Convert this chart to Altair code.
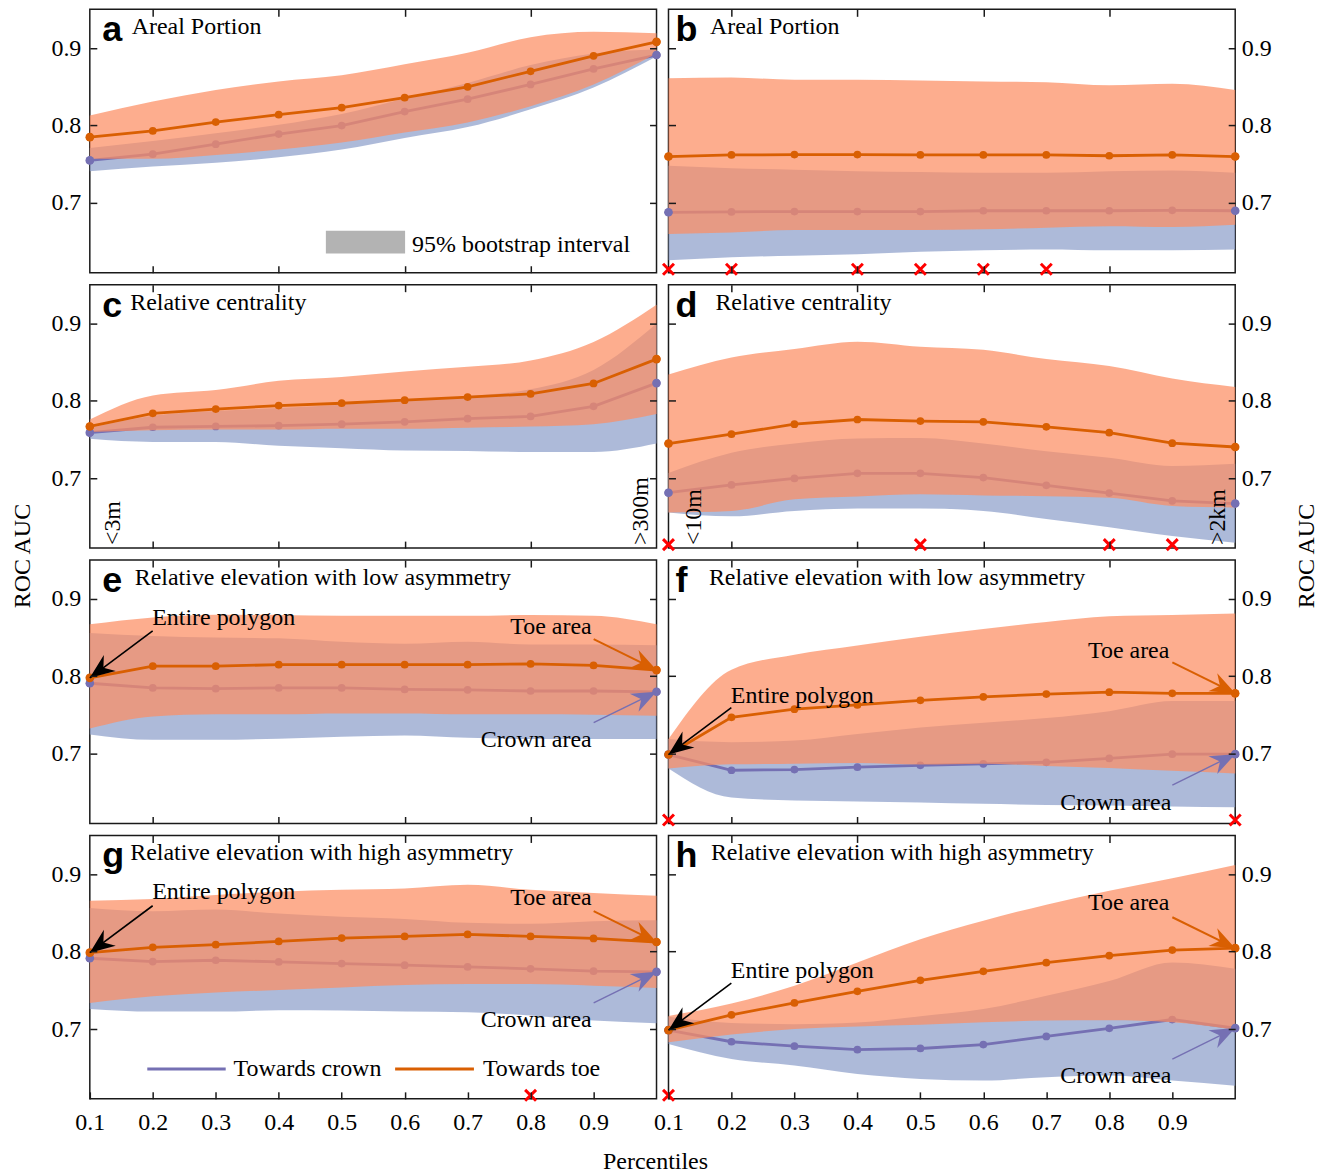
import altair as alt
import pandas as pd

# ---------------- data ----------------
X = [0.1, 0.2, 0.3, 0.4, 0.5, 0.6, 0.7, 0.8, 0.9, 1.0]
X_LABELS = [0.1, 0.2, 0.3, 0.4, 0.5, 0.6, 0.7, 0.8, 0.9]
X_MINOR = [0.2, 0.4, 0.6, 0.8]
Y_TICKS = [0.7, 0.8, 0.9]

LETTERS = ["a", "b", "c", "d", "e", "f", "g", "h"]
TITLES = ["Areal Portion", "Areal Portion", "Relative centrality", "Relative centrality",
          "Relative elevation with low asymmetry", "Relative elevation with low asymmetry",
          "Relative elevation with high asymmetry", "Relative elevation with high asymmetry"]

# panel a
a_toe = [0.785, 0.793, 0.8045, 0.814, 0.823, 0.836, 0.850, 0.870, 0.890, 0.908]
a_toe_hi = [0.813, 0.831, 0.846, 0.857, 0.865, 0.879, 0.894, 0.914, 0.921, 0.919]
a_toe_lo = [0.757, 0.757, 0.762, 0.769, 0.778, 0.791, 0.804, 0.825, 0.853, 0.893]
a_crown = [0.755, 0.763, 0.776, 0.789, 0.800, 0.818, 0.834, 0.853, 0.873, 0.891]
a_crown_hi = [0.771, 0.780, 0.790, 0.801, 0.815, 0.835, 0.855, 0.878, 0.893, 0.898]
a_crown_lo = [0.741, 0.747, 0.752, 0.759, 0.769, 0.784, 0.798, 0.821, 0.849, 0.889]
# panel b
b_toe = [0.760, 0.762, 0.7625, 0.7625, 0.762, 0.762, 0.762, 0.761, 0.762, 0.760]
b_toe_hi = [0.861, 0.862, 0.859, 0.859, 0.858, 0.857, 0.856, 0.852, 0.854, 0.846]
b_toe_lo = [0.660, 0.662, 0.665, 0.665, 0.665, 0.666, 0.668, 0.670, 0.669, 0.672]
b_crown = [0.688, 0.6885, 0.689, 0.689, 0.689, 0.690, 0.690, 0.690, 0.6905, 0.690]
b_crown_hi = [0.748, 0.745, 0.743, 0.741, 0.740, 0.739, 0.739, 0.741, 0.742, 0.739]
b_crown_lo = [0.626, 0.630, 0.632, 0.634, 0.637, 0.639, 0.640, 0.639, 0.639, 0.640]
# panel c
c_toe = [0.767, 0.784, 0.7895, 0.794, 0.797, 0.801, 0.805, 0.809, 0.8225, 0.854]
c_toe_hi = [0.776, 0.807, 0.814, 0.826, 0.831, 0.838, 0.844, 0.852, 0.876, 0.924]
c_toe_lo = [0.760, 0.762, 0.763, 0.763, 0.764, 0.764, 0.7655, 0.767, 0.770, 0.783]
c_crown = [0.759, 0.766, 0.767, 0.768, 0.770, 0.773, 0.777, 0.780, 0.793, 0.823]
c_crown_hi = [0.765, 0.781, 0.787, 0.791, 0.795, 0.801, 0.806, 0.815, 0.840, 0.900]
c_crown_lo = [0.751, 0.747, 0.747, 0.742, 0.739, 0.736, 0.7355, 0.734, 0.734, 0.745]
# panel d
d_toe = [0.745, 0.757, 0.770, 0.776, 0.774, 0.773, 0.7665, 0.759, 0.7455, 0.7405]
d_toe_hi = [0.834, 0.856, 0.867, 0.8765, 0.870, 0.866, 0.854, 0.845, 0.829, 0.818]
d_toe_lo = [0.656, 0.658, 0.673, 0.6765, 0.6795, 0.678, 0.677, 0.675, 0.6645, 0.6625]
d_crown = [0.6815, 0.6915, 0.700, 0.7065, 0.7065, 0.701, 0.691, 0.681, 0.671, 0.6675]
d_crown_hi = [0.707, 0.733, 0.745, 0.7515, 0.752, 0.745, 0.735, 0.7265, 0.716, 0.719]
d_crown_lo = [0.656, 0.651, 0.658, 0.661, 0.661, 0.658, 0.6475, 0.637, 0.6255, 0.617]
# panel e
e_toe = [0.798, 0.813, 0.813, 0.815, 0.815, 0.815, 0.815, 0.816, 0.814, 0.808]
e_toe_hi = [0.867, 0.876, 0.8795, 0.879, 0.878, 0.878, 0.878, 0.879, 0.878, 0.867]
e_toe_lo = [0.7325, 0.748, 0.751, 0.751, 0.752, 0.752, 0.751, 0.751, 0.7505, 0.749]
e_crown = [0.791, 0.785, 0.784, 0.785, 0.785, 0.783, 0.7825, 0.781, 0.781, 0.780]
e_crown_hi = [0.856, 0.852, 0.850, 0.849, 0.8445, 0.842, 0.8445, 0.841, 0.841, 0.840]
e_crown_lo = [0.725, 0.718, 0.718, 0.7195, 0.722, 0.7235, 0.7205, 0.719, 0.719, 0.719]
# panel f
f_toe = [0.699, 0.747, 0.7575, 0.763, 0.769, 0.7735, 0.777, 0.7795, 0.778, 0.778]
f_toe_hi = [0.719, 0.8085, 0.8277, 0.8396, 0.851, 0.861, 0.870, 0.8775, 0.879, 0.881]
f_toe_lo = [0.681, 0.6864, 0.6872, 0.688, 0.686, 0.6872, 0.6843, 0.6817, 0.678, 0.6745]
f_crown = [0.699, 0.6787, 0.6796, 0.6826, 0.685, 0.687, 0.689, 0.694, 0.6995, 0.6995]
f_crown_hi = [0.719, 0.715, 0.717, 0.7255, 0.734, 0.740, 0.746, 0.755, 0.768, 0.768]
f_crown_lo = [0.681, 0.6434, 0.6396, 0.6383, 0.637, 0.6353, 0.634, 0.6332, 0.632, 0.631]
# panel g
g_toe = [0.7987, 0.8056, 0.809, 0.8132, 0.8175, 0.8197, 0.8222, 0.8197, 0.8171, 0.8124]
g_toe_hi = [0.8658, 0.868, 0.8731, 0.8774, 0.8799, 0.8816, 0.8863, 0.8799, 0.8756, 0.8722]
g_toe_lo = [0.7338, 0.7423, 0.7474, 0.7504, 0.7538, 0.7568, 0.7581, 0.7581, 0.756, 0.753]
g_crown = [0.7915, 0.7872, 0.7889, 0.7868, 0.7846, 0.7825, 0.7803, 0.7778, 0.7748, 0.7739]
g_crown_hi = [0.8564, 0.8521, 0.8543, 0.8491, 0.8449, 0.8423, 0.8372, 0.8359, 0.8393, 0.8406]
g_crown_lo = [0.7261, 0.7226, 0.7226, 0.7244, 0.7239, 0.7226, 0.7218, 0.7175, 0.7111, 0.7077]
# panel h
h_toe = [0.6987, 0.7184, 0.7338, 0.7488, 0.763, 0.7746, 0.7857, 0.795, 0.802, 0.8045]
h_toe_hi = [0.717, 0.733, 0.756, 0.786, 0.816, 0.840, 0.8607, 0.8786, 0.8946, 0.9117]
h_toe_lo = [0.683, 0.693, 0.700, 0.7035, 0.7056, 0.709, 0.711, 0.7115, 0.709, 0.699]
h_crown = [0.6987, 0.6837, 0.678, 0.6734, 0.675, 0.680, 0.6906, 0.701, 0.7124, 0.7013]
h_crown_hi = [0.716, 0.708, 0.7064, 0.7086, 0.7167, 0.726, 0.743, 0.762, 0.786, 0.778]
h_crown_lo = [0.6807, 0.6614, 0.653, 0.642, 0.6357, 0.6336, 0.638, 0.640, 0.6336, 0.627]

# significance markers (red crosses)
SIG = {"a": [], "b": [0.1, 0.2, 0.4, 0.5, 0.6, 0.7], "c": [], "d": [0.1, 0.5, 0.8, 0.9],
       "e": [], "f": [0.1, 1.0], "g": [0.8], "h": [0.1]}

SERIES = {
    "a": (a_toe, a_toe_lo, a_toe_hi, a_crown, a_crown_lo, a_crown_hi),
    "b": (b_toe, b_toe_lo, b_toe_hi, b_crown, b_crown_lo, b_crown_hi),
    "c": (c_toe, c_toe_lo, c_toe_hi, c_crown, c_crown_lo, c_crown_hi),
    "d": (d_toe, d_toe_lo, d_toe_hi, d_crown, d_crown_lo, d_crown_hi),
    "e": (e_toe, e_toe_lo, e_toe_hi, e_crown, e_crown_lo, e_crown_hi),
    "f": (f_toe, f_toe_lo, f_toe_hi, f_crown, f_crown_lo, f_crown_hi),
    "g": (g_toe, g_toe_lo, g_toe_hi, g_crown, g_crown_lo, g_crown_hi),
    "h": (h_toe, h_toe_lo, h_toe_hi, h_crown, h_crown_lo, h_crown_hi),
}

SIDE_LABELS = {"c": ["<3m", ">300m"], "d": ["<10m", ">2km"]}
ANNOT = ["Entire polygon", "Toe area", "Crown area"]
LEGEND_LINES = ["Towards crown", "Towards toe"]
BAND_LABEL = "95% bootstrap interval"

# ---------------- style ----------------
SERIF = "Liberation Serif"
SANS = "Liberation Sans"
FS = 24
W, H = 568, 264
BLUE, ORANGE = "#7570B3", "#D95F02"
BLUE_BAND, ORANGE_BAND = "#8DA0CB", "#FC8D62"
BAND_OP = 0.72
XS = alt.Scale(domain=[0.1, 1.0], nice=False, zero=False)
YS = alt.Scale(domain=[0.61, 0.95], nice=False, zero=False)
XPATH = "M-1,-1L1,1M-1,1L1,-1"
HEAD = "M0,0L0.5,1.25L0,0.85L-0.5,1.25Z"


def ex():
    return alt.X("x:Q", scale=XS, axis=None)


def ey(field):
    return alt.Y(field, type="quantitative", scale=YS, axis=None)


def txt(s, x, y, align="left", baseline="middle", size=FS, font=SERIF, weight="normal",
        angle=0, color="black"):
    kw = dict(align=align, baseline=baseline, fontSize=size, font=font,
              fontWeight=weight, color=color)
    if angle:
        kw["angle"] = angle
    return alt.Chart(pd.DataFrame({"t": [s]})).mark_text(**kw).encode(
        text="t:N", x=alt.value(x), y=alt.value(y))


def arrow(tip_x, tip_y, dx, dy, color, width, angle):
    d = pd.DataFrame({"x": [tip_x], "y": [tip_y]})
    line = alt.Chart(d).mark_rule(color=color, strokeWidth=width, x2Offset=dx, y2Offset=dy).encode(
        x=ex(), y=ey("y"), x2=alt.X2("x"), y2=alt.Y2("y"))
    head = alt.Chart(d).mark_point(shape=HEAD, size=1600, filled=True, color=color, opacity=1,
                                   angle=angle, strokeWidth=0).encode(x=ex(), y=ey("y"))
    return [line, head]


def panel(idx):
    key = LETTERS[idx]
    col = idx % 2
    bottom = idx >= 6
    toe, toe_lo, toe_hi, crown, crown_lo, crown_hi = SERIES[key]
    df = pd.DataFrame({"x": X, "toe": toe, "toe_lo": toe_lo, "toe_hi": toe_hi,
                       "crown": crown, "crown_lo": crown_lo, "crown_hi": crown_hi})
    base = alt.Chart(df)

    # axis carriers
    lab_y = alt.Axis(orient="left" if col == 0 else "right", values=Y_TICKS, format=".1f",
                     ticks=False, tickSize=0, domain=False, grid=False, title=None,
                     labelFlush=False, labelPadding=9 if col == 0 else 6)
    lab_x = (alt.Axis(orient="bottom", values=X_LABELS, format=".1f", ticks=False, tickSize=0,
                      domain=False, grid=False, title=None, labelFlush=False, labelPadding=12)
             if bottom else None)
    tk = dict(labels=False, domain=False, grid=False, tickSize=7, offset=-7, ticks=True,
              title=None, zindex=1, tickColor="#1a1a1a", tickWidth=1.5, minExtent=0)
    c1 = base.mark_point(opacity=0).encode(
        x=alt.X("x:Q", scale=XS, axis=lab_x), y=alt.Y("toe:Q", scale=YS, axis=lab_y))
    c2 = base.mark_point(opacity=0).encode(
        x=alt.X("x:Q", scale=XS, axis=alt.Axis(orient="bottom", values=X_LABELS if bottom else X_MINOR, **tk)),
        y=alt.Y("toe:Q", scale=YS, axis=alt.Axis(orient="left", values=Y_TICKS, **tk)))
    c3 = base.mark_point(opacity=0).encode(
        x=alt.X("x:Q", scale=XS, axis=alt.Axis(orient="top", values=X_MINOR, **tk)),
        y=alt.Y("toe:Q", scale=YS, axis=alt.Axis(orient="right", values=Y_TICKS, **tk)))

    layers = [c1, c2, c3]
    layers.append(base.mark_area(color=BLUE_BAND, opacity=BAND_OP, interpolate="monotone").encode(
        x=ex(), y=ey("crown_lo"), y2=alt.Y2("crown_hi")))
    layers.append(base.mark_line(color=BLUE, strokeWidth=2.8).encode(x=ex(), y=ey("crown")))
    layers.append(base.mark_circle(color=BLUE, size=60, opacity=1).encode(x=ex(), y=ey("crown")))
    layers.append(base.mark_area(color=ORANGE_BAND, opacity=BAND_OP, interpolate="monotone").encode(
        x=ex(), y=ey("toe_lo"), y2=alt.Y2("toe_hi")))
    layers.append(base.mark_line(color=ORANGE, strokeWidth=2.8).encode(x=ex(), y=ey("toe")))
    layers.append(base.mark_circle(color=ORANGE, size=60, opacity=1).encode(x=ex(), y=ey("toe")))
    ends = base.transform_filter("datum.x < 0.15 || datum.x > 0.95")
    layers.append(ends.mark_circle(color=BLUE, size=75, opacity=1).encode(x=ex(), y=ey("crown")))
    layers.append(ends.mark_circle(color=ORANGE, size=75, opacity=1).encode(x=ex(), y=ey("toe")))

    if SIG[key]:
        sd = pd.DataFrame({"x": SIG[key]})
        layers.append(alt.Chart(sd).mark_point(shape=XPATH, size=120, filled=False, color="red",
                                               strokeWidth=3, opacity=1).encode(
            x=ex(), y=alt.value(H - 3.5)))

    # panel letter + title
    lx = 12.5 if col == 0 else 7
    title_x = {"a": 42, "b": 41.5, "c": 40.5, "d": 47, "e": 45, "f": 40.5, "g": 40.5, "h": 42.5}[key]
    layers.append(txt(key, lx, 32, baseline="alphabetic", size=36, font=SANS, weight="bold"))
    layers.append(txt(TITLES[idx], title_x, 25, baseline="alphabetic"))

    if key in SIDE_LABELS:
        s0, s1 = SIDE_LABELS[key]
        xa, xb = (23, 552) if key == "c" else (26, 551)
        layers.append(txt(s0, xa, 261, align="left", angle=270))
        layers.append(txt(s1, xb, 261, align="left", angle=270))

    if key == "a":
        layers.append(alt.Chart(pd.DataFrame({"k": [0]})).mark_rect(color="#B3B3B3").encode(
            x=alt.value(236.6), x2=alt.value(316), y=alt.value(222), y2=alt.value(244.7)))
        layers.append(txt(BAND_LABEL, 323, 236))

    if key in ("e", "f", "g", "h"):
        layers += arrow(X[0], toe[0], 63, -47, "black", 1.6, 233.3)
        layers += arrow(X[-1], toe[-1], -63, -31, ORANGE, 2, 116.2)
        layers += arrow(X[-1], crown[-1], -63, 31, BLUE, 1.4, 63.8)
        pos = {"e": (62.5, 58, 503, 67, 503, 180),
               "f": (62.5, 136, 502, 91, 504, 243),
               "g": (62.5, 57, 503, 63, 503, 185),
               "h": (62.5, 136, 502, 68, 504, 241)}[key]
        layers.append(txt(ANNOT[0], pos[0], pos[1]))
        layers.append(txt(ANNOT[1], pos[2], pos[3], align="right"))
        layers.append(txt(ANNOT[2], pos[4], pos[5], align="right"))

    if key == "g":
        ld = pd.DataFrame({"k": [0]})
        layers.append(alt.Chart(ld).mark_rule(color=BLUE, strokeWidth=3).encode(
            x=alt.value(57.6), x2=alt.value(136.2), y=alt.value(234)))
        layers.append(txt(LEGEND_LINES[0], 144, 234))
        layers.append(alt.Chart(ld).mark_rule(color=ORANGE, strokeWidth=3).encode(
            x=alt.value(306), x2=alt.value(385), y=alt.value(234)))
        layers.append(txt(LEGEND_LINES[1], 394, 234))
        layers.append(txt("Percentiles", 567, 327, align="center"))

    if key == "c":
        layers.append(txt("ROC AUC", -67, 272, align="center", angle=270))
    if key == "d":
        layers.append(txt("ROC AUC", 640, 272, align="center", angle=270))

    return alt.layer(*layers).resolve_axis(x="independent", y="independent").properties(
        width=W, height=H)


chart = alt.concat(*[panel(i) for i in range(8)], columns=2, spacing=12, bounds="flush").properties(
    padding={"left": 2, "right": 2, "top": -2, "bottom": 0}
).configure_view(stroke="#1a1a1a", strokeWidth=1.5).configure_axis(
    labelFont=SERIF, labelFontSize=FS, labelColor="black")

chart.save("out.html", embed_options={"renderer": "svg", "actions": False})
